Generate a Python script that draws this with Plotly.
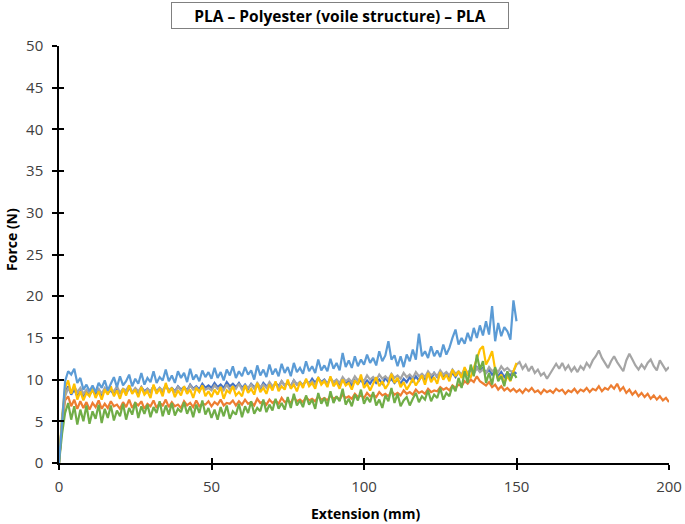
import plotly.graph_objects as go

# Force (N) sampled every 1 mm of extension
blue = [0, 5.5, 9.8, 11.0, 10.6, 11.3, 9.6, 10.2, 8.8, 9.4,
        8.6, 9.3, 8.5, 9.6, 9.0, 9.9, 8.7, 9.5, 10.3, 9.1,
        10.4, 9.3, 9.8, 10.6, 9.2, 10.1, 9.5, 10.8, 9.4, 10.2,
        9.7, 11.0, 9.6, 10.3, 9.9, 11.2, 9.8, 10.5, 9.6, 11.0,
        10.2, 10.8, 9.7, 11.3, 10.0, 10.6, 9.8, 11.1, 10.3, 10.9,
        10.1, 11.4, 10.2, 10.9, 9.9, 11.2, 10.5, 11.6, 10.2, 11.0,
        10.4, 11.5, 10.6, 11.1, 10.0, 11.7, 10.5, 11.2, 10.3, 11.8,
        10.6, 11.3, 10.4, 11.9, 10.8, 11.5, 10.4, 12.0, 10.9, 11.4,
        10.7, 12.2, 11.0, 11.6, 10.8, 12.4, 11.1, 11.7, 11.0, 12.5,
        11.3, 12.0, 11.1, 13.2, 11.5, 12.3, 11.4, 12.8, 11.6, 12.4,
        11.8, 13.0, 12.0, 12.6, 11.7, 13.4, 12.2, 12.9, 14.6, 12.4,
        12.9, 11.6, 12.8, 11.5, 13.0, 12.2, 13.6, 12.4, 15.5, 12.8,
        13.4, 12.6, 14.0, 12.8, 13.5, 12.7, 14.2, 13.0, 13.8, 15.0,
        16.0, 14.2, 15.0, 14.3, 15.6, 14.6, 16.2, 15.0, 16.5, 15.3,
        17.0, 15.4, 18.8, 14.6, 16.8, 15.2, 16.3, 15.8, 14.8, 19.5, 17.0]

orange = [0, 4.5, 7.5, 8.0, 6.8, 7.6, 6.5, 7.4, 6.6, 7.3,
          6.4, 7.2, 6.7, 7.5, 6.5, 7.1, 6.6, 7.4, 6.8, 7.0,
          6.5, 7.3, 6.7, 7.6, 6.6, 7.2, 6.9, 7.4, 6.5, 7.1,
          6.8, 7.5, 6.6, 7.2, 6.9, 7.6, 6.7, 7.3, 6.8, 7.0,
          6.6, 7.4, 6.9, 7.2, 6.7, 7.5, 6.8, 7.1, 7.0, 7.4,
          6.8, 7.3, 7.0, 7.6, 6.9, 7.2, 7.1, 7.5, 6.9, 7.4,
          7.0, 7.6, 7.1, 7.3, 6.9, 7.7, 7.2, 7.4, 7.0, 7.6,
          7.2, 7.5, 7.1, 7.8, 7.3, 7.5, 7.2, 7.9, 7.4, 7.6,
          7.3, 7.9, 7.5, 7.7, 7.4, 8.0, 7.6, 7.8, 7.5, 8.1,
          7.7, 7.9, 7.6, 8.2, 7.8, 8.0, 7.7, 8.3, 7.9, 8.1,
          7.8, 8.4, 8.0, 8.2, 7.9, 8.5, 8.1, 8.3, 8.0, 8.6,
          8.2, 8.4, 8.1, 8.7, 8.3, 8.5, 8.2, 8.8, 8.4, 8.6,
          8.3, 8.9, 8.5, 8.7, 8.6, 9.1, 8.8, 9.0, 8.7, 9.3,
          9.0, 9.4, 9.2, 9.8, 9.5, 10.0, 9.7, 10.4, 9.8, 9.6,
          9.3, 9.7, 9.1, 9.4, 8.8, 9.2, 8.7, 9.0, 8.6, 8.9,
          8.5, 8.8, 8.4, 8.9, 8.6, 9.0, 8.5, 8.7, 8.3, 8.8,
          8.5, 8.7, 8.4, 8.9, 8.6, 8.8, 8.3, 8.7, 8.5, 8.9,
          8.4, 8.8, 8.6, 9.0, 8.5, 8.9, 8.7, 9.2, 8.6, 9.0,
          8.8, 9.3, 8.9, 9.5, 8.7, 9.1, 8.4, 8.8, 8.2, 8.6,
          8.0, 8.4, 7.9, 8.3, 7.7, 8.1, 7.6, 8.0, 7.5, 7.8, 7.3]

gray = [0, 5.0, 8.0, 9.0, 8.4, 9.2, 8.5, 9.0, 8.3, 8.8,
        8.4, 9.1, 8.6, 8.9, 8.3, 9.0, 8.5, 8.8, 8.6, 9.2,
        8.4, 8.9, 8.7, 9.3, 8.5, 9.0, 8.6, 9.1, 8.4, 8.9,
        8.6, 9.2, 8.5, 9.0, 8.7, 9.3, 8.6, 8.9, 8.5, 9.1,
        8.7, 9.0, 8.6, 9.3, 8.8, 9.1, 8.6, 9.2, 8.8, 9.0,
        8.7, 9.3, 8.9, 9.1, 8.7, 9.4, 8.8, 9.2, 8.9, 9.5,
        8.8, 9.3, 9.0, 9.4, 8.9, 9.6, 9.1, 9.4, 9.0, 9.7,
        9.2, 9.5, 9.0, 9.8, 9.3, 9.6, 9.1, 9.9, 9.4, 9.7,
        9.3, 9.9, 9.5, 9.8, 9.4, 10.1, 9.6, 9.9, 9.5, 10.2,
        9.7, 10.0, 9.6, 10.3, 9.8, 10.1, 9.7, 10.4, 9.9, 10.2,
        9.8, 10.5, 10.0, 10.3, 9.9, 10.6, 10.1, 10.4, 10.0, 10.7,
        10.2, 10.5, 10.1, 10.8, 10.3, 10.6, 10.2, 10.9, 10.4, 10.7,
        10.3, 11.0, 10.5, 10.8, 10.4, 11.1, 10.6, 10.9, 10.5, 11.2,
        10.7, 11.0, 10.6, 11.3, 10.8, 11.1, 10.7, 11.4, 10.9, 11.2,
        10.8, 11.5, 11.0, 11.3, 10.9, 11.6, 11.1, 11.4, 11.0, 11.0,
        11.8, 12.1, 11.3, 11.8, 11.0, 11.6, 10.8, 11.2, 10.5, 10.8,
        10.1, 10.7, 11.4, 11.9, 11.3, 12.0, 11.2, 11.7, 11.0, 11.5,
        10.9, 11.6, 11.2, 12.0, 11.5, 12.3, 12.8, 13.5, 12.6, 12.0,
        11.4, 12.2, 12.8, 12.1, 11.6, 11.0, 12.3, 13.1, 12.4, 11.7,
        11.2, 11.8, 11.3, 12.0, 12.4, 11.6, 11.1, 12.3, 11.7, 11.1, 11.5]

yellow = [0, 5.5, 9.0, 9.9, 8.3, 9.5, 7.6, 8.6, 7.5, 8.4,
          8.0, 8.9, 7.8, 8.6, 7.6, 8.8, 8.2, 9.2, 8.0, 8.7,
          7.7, 8.9, 8.1, 9.3, 8.3, 8.8, 7.9, 9.1, 8.2, 8.6,
          7.8, 9.4, 8.3, 8.9, 8.0, 9.6, 8.4, 9.0, 7.9, 8.7,
          8.1, 9.2, 8.3, 8.8, 7.8, 9.0, 8.5, 9.3, 8.0, 8.6,
          7.9, 8.8, 8.2, 9.1, 7.7, 8.7, 8.4, 9.2, 8.1, 8.5,
          8.0, 9.3, 8.4, 8.9, 8.2, 9.6, 8.5, 9.0, 8.3, 9.4,
          8.7, 9.8, 8.6, 9.2, 8.8, 10.0, 8.9, 9.4, 8.6, 9.7,
          9.0, 10.1, 9.2, 9.6, 8.9, 10.3, 9.4, 9.8, 9.1, 10.4,
          9.2, 9.7, 8.9, 10.0, 9.3, 9.6, 8.8, 9.9, 9.4, 10.6,
          9.0, 9.5, 8.7, 9.6, 10.3, 9.2, 9.8, 8.9, 9.5, 10.7,
          9.6, 10.2, 9.1, 9.7, 8.8, 9.4, 10.1, 9.3, 9.9, 10.5,
          9.4, 10.8, 9.7, 10.3, 9.5, 10.9, 10.0, 10.6, 9.8, 11.2,
          10.4, 11.0, 10.2, 11.5, 10.6, 10.3, 11.4, 12.6, 13.6, 14.0,
          11.8, 12.5, 13.4, 11.2, 10.0, 10.6, 9.6, 10.4, 9.8, 11.0, 12.0]

darkblue = [0, 5.0, 8.5, 9.2, 8.2, 8.8, 8.0, 8.6, 8.1, 8.5,
            8.2, 8.7, 8.3, 8.6, 8.1, 8.8, 8.4, 8.7, 8.2, 8.9,
            8.4, 8.8, 8.3, 9.0, 8.5, 8.8, 8.4, 9.1, 8.6, 8.9,
            8.5, 9.2, 8.6, 9.0, 8.5, 9.3, 8.7, 9.0, 8.6, 9.2,
            8.8, 9.1, 8.7, 9.4, 8.9, 9.2, 8.8, 9.5, 9.0, 9.3,
            9.0, 9.6, 9.1, 9.4, 9.0, 9.7, 9.2, 9.5, 9.1, 9.6,
            9.0, 9.4, 8.9, 9.5, 9.1, 9.3, 8.9, 9.6, 9.2, 9.4,
            9.0, 9.6, 9.2, 9.8, 9.3, 9.6, 9.2, 9.9, 9.4, 9.7,
            9.3, 9.9, 9.5, 10.1, 9.6, 10.2, 9.7, 10.0, 9.5, 10.1,
            9.6, 9.9, 9.4, 10.0, 9.5, 9.8, 9.3, 9.9, 9.5, 10.0,
            9.4, 9.9, 9.5, 10.1, 9.6, 10.0, 9.5, 10.2, 9.7, 10.1,
            9.6, 10.0, 9.5, 10.1, 9.7, 10.3, 9.8, 10.4, 9.9, 10.5,
            10.0, 10.6, 10.1, 10.8, 10.3, 10.9, 10.4, 10.7, 10.2, 10.8,
            10.3, 10.9, 10.5, 11.1, 10.6, 11.3, 10.8, 11.5, 11.0, 11.4,
            10.8, 11.2, 10.6, 11.0, 10.4, 10.9, 10.3, 10.8, 10.5, 11.0, 10.7]

green = [0, 3.5, 6.0, 7.2, 5.2, 6.8, 4.6, 6.4, 5.0, 6.9,
         4.7, 6.2, 5.3, 7.0, 4.8, 6.5, 5.4, 6.9, 5.1, 6.3,
         5.6, 7.1, 5.2, 6.6, 5.8, 7.3, 5.4, 6.8, 5.9, 7.0,
         5.5, 6.7, 6.0, 7.4, 5.6, 6.9, 5.8, 7.2, 5.7, 6.5,
         6.1, 7.3, 5.9, 6.8, 5.5, 7.0, 6.0, 7.5, 5.8, 6.6,
         5.4, 6.4, 5.2, 6.7, 5.6, 6.9, 5.3, 6.2, 5.8, 7.1,
         5.5, 6.8, 6.0, 7.4, 5.9, 6.6, 6.2, 7.6, 6.1, 7.0,
         6.3, 7.7, 6.5, 7.2, 6.4, 7.9, 6.6, 8.3, 6.9, 7.5,
         6.7, 8.1, 7.0, 7.6, 6.5, 8.4, 7.1, 7.8, 6.8, 8.6,
         7.2, 8.0, 7.4, 8.9, 7.0, 7.7, 6.8, 8.2, 7.5, 8.8,
         7.1, 7.9, 7.3, 8.5, 6.9, 7.6, 6.6, 8.1, 7.4, 9.0,
         7.2, 8.3, 6.8, 7.5, 7.9, 6.9, 7.7, 8.4, 7.3, 8.0,
         7.6, 8.7, 7.4, 8.2, 7.8, 9.0, 7.6, 8.4, 8.0, 9.3,
         8.6, 10.2, 9.0, 11.0, 9.6, 11.8, 10.4, 13.0, 11.2, 12.2,
         9.6, 10.8, 9.4, 11.5, 9.8, 10.4, 9.2, 11.0, 9.9, 10.8, 10.2]

series = [
    (darkblue, "#4472C4"),
    (orange, "#ED7D31"),
    (gray, "#A5A5A5"),
    (yellow, "#FFC000"),
    (green, "#70AD47"),
    (blue, "#5B9BD5"),
]

x_ticks = [0, 50, 100, 150, 200]
y_ticks = [0, 5, 10, 15, 20, 25, 30, 35, 40, 45, 50]

FONT = "Open Sans"
fig = go.Figure()
for vals, col in series:
    fig.add_trace(go.Scatter(x=list(range(len(vals))), y=vals, mode="lines",
                             line=dict(color=col, width=2.2), showlegend=False,
                             hoverinfo="skip"))

axis_common = dict(showgrid=False, zeroline=False, showline=True, linecolor="black",
                   linewidth=1.5, ticks="outside", ticklen=5, tickwidth=1.5, automargin=False,
                   tickcolor="black", tickfont=dict(family=FONT, size=15, color="#404040"))
fig.update_layout(
    width=685, height=524, plot_bgcolor="white", paper_bgcolor="white",
    margin=dict(l=59, r=16, t=46, b=61),
    xaxis=dict(range=[0, 200], tickvals=x_ticks, ticklabelstandoff=4, **axis_common),
    yaxis=dict(range=[0, 50], tickvals=y_ticks, ticklabelstandoff=6, **axis_common),
    xaxis2=dict(range=[0, 200], overlaying="x", tickvals=x_ticks, ticks="inside", ticklen=5,
                tickwidth=1.5, tickcolor="black", showticklabels=False, showgrid=False,
                zeroline=False, showline=False, anchor="y", automargin=False),
    yaxis2=dict(range=[0, 50], overlaying="y", tickvals=y_ticks, ticks="inside", ticklen=5,
                tickwidth=1.5, tickcolor="black", showticklabels=False, showgrid=False,
                zeroline=False, showline=False, anchor="x", automargin=False),
    annotations=[
        dict(text="<b>PLA – Polyester (voile structure) – PLA</b>",
             xref="paper", yref="paper", x=0.4607, y=1.0731, xanchor="center", yanchor="middle",
             width=334, height=23, align="center",
             showarrow=False, font=dict(family=FONT, size=15.5, color="black"),
             bordercolor="#808080", borderwidth=1, borderpad=1, bgcolor="white"),
        dict(text="<b>Extension (mm)</b>", xref="paper", yref="paper", x=0.503, y=-0.12,
             yanchor="middle", showarrow=False, font=dict(family=FONT, size=14, color="black")),
        dict(text="<b>Force (N)</b>", xref="paper", yref="paper", x=-0.077, y=0.535,
             textangle=-90, xanchor="center", yanchor="middle", showarrow=False,
             font=dict(family=FONT, size=14, color="black")),
    ],
)
# invisible trace to activate the overlay axes
fig.add_trace(go.Scatter(x=[None], y=[None], xaxis="x2", yaxis="y2", showlegend=False))
fig.write_html("out.html", config={"displayModeBar": False},
               post_script="document.body.style.margin='0';")
